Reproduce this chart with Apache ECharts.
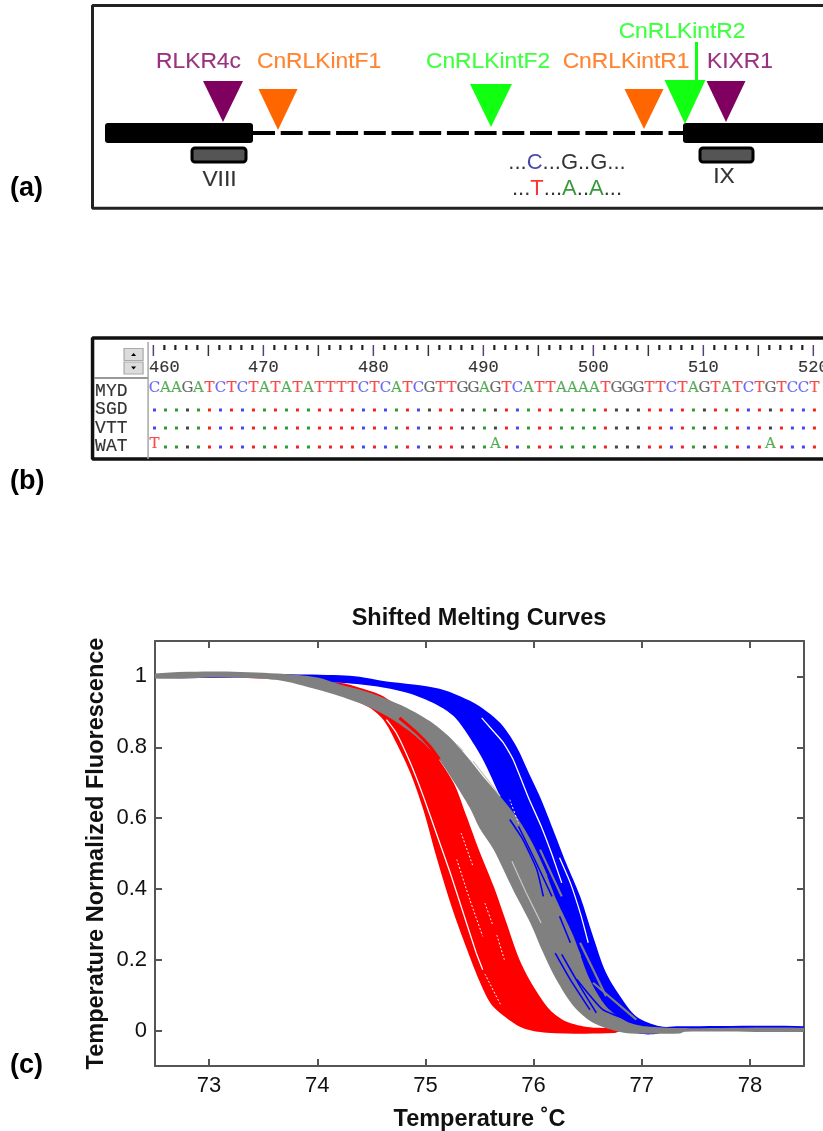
<!DOCTYPE html>
<html><head><meta charset="utf-8">
<style>html,body{margin:0;padding:0;background:#fff}#c{width:823px;height:1131px}</style>
<script src="https://cdn.jsdelivr.net/npm/echarts@6/dist/echarts.min.js"></script>
</head><body><div id="c"></div>
<script>
// ---------- panel (c): envelopes of the melting-curve families, [temperature, fluorescence]
const redLower=[[72.5,.996],[73.5,.995],[74.0,.97],[74.46,.916],[74.61,.878],[74.73,.813],[74.86,.728],[74.98,.624],[75.10,.492],[75.23,.361],[75.35,.257],[75.5,.139],[75.60,.078],[75.69,.05],[75.9,.007],[76.12,-.006],[76.74,-.007]];
const redUpper=[[72.5,1.005],[74.21,.982],[74.39,.968],[74.61,.944],[74.83,.888],[75.04,.803],[75.26,.70],[75.38,.605],[75.50,.506],[75.63,.408],[75.75,.304],[75.87,.2],[75.997,.125],[76.15,.059],[76.30,.026],[76.52,.0095],[76.83,.005]];
const blueLower=[[72.5,.996],[73.7,.996],[74.0,.985],[74.21,.982],[74.52,.973],[74.83,.954],[75.10,.921],[75.26,.888],[75.38,.841],[75.53,.766],[75.69,.662],[75.81,.587],[75.97,.502],[76.06,.417],[76.18,.323],[76.30,.2],[76.43,.097],[76.61,.036],[76.77,.012],[76.98,-.009],[77.15,-.009],[77.2,0],[78.5,0]];
const blueUpper=[[72.5,1.006],[73.7,1.006],[74.21,1.003],[74.39,.999],[74.61,.987],[74.89,.977],[75.13,.965],[75.32,.944],[75.50,.916],[75.69,.869],[75.84,.803],[75.97,.718],[76.07,.6525],[76.18,.568],[76.30,.474],[76.43,.379],[76.55,.266],[76.67,.163],[76.80,.097],[76.95,.04],[77.17,.012],[77.35,.012],[78.5,.012]];
const grayLower=[[72.5,.994],[73.1,.997],[73.63,.99],[74.0,.963],[74.21,.944],[74.46,.916],[74.67,.883],[74.89,.836],[75.10,.775],[75.26,.704],[75.41,.629],[75.50,.572],[75.63,.511],[75.81,.398],[75.97,.304],[76.09,.219],[76.21,.144],[76.37,.069],[76.55,.022],[76.77,-.002],[76.9,-.008],[77.35,-.008],[77.4,-.003],[78.5,-.003]];
const grayUpper=[[72.5,1.008],[73.1,1.014],[73.63,1.008],[74.0,.997],[74.21,.977],[74.39,.963],[74.61,.94],[74.83,.911],[75.04,.874],[75.23,.827],[75.38,.775],[75.53,.718],[75.69,.662],[75.84,.605],[75.97,.54],[76.09,.464],[76.21,.37],[76.37,.266],[76.52,.144],[76.67,.069],[76.86,.026],[77.04,.012],[77.35,.007],[78.5,.008]];
// individual curves that stand out inside the bands
const whiteCurves=[
 [[75.52,.883],[75.60,.855],[75.72,.813],[75.81,.766],[75.96,.6525],[76.07,.577],[76.17,.497],[76.26,.417]],
 [[76.24,.488],[76.34,.417],[76.44,.323],[76.505,.248]],
 [[74.64,.878],[74.73,.841],[74.86,.756],[74.98,.662],[75.10,.558],[75.23,.445],[75.35,.332],[75.47,.219],[75.53,.172]]
];
const paleCurves=[
 [[75.44,.761],[75.57,.71],[75.69,.662]],
 [[75.80,.478],[75.93,.39],[76.07,.304]],
 [[75.29,.808],[75.35,.789]]
];
const dottedCurves=[
 [[75.33,.558],[75.44,.464]],
 [[75.29,.483],[75.41,.37],[75.53,.266]],
 [[75.55,.36],[75.62,.30]],
 [[75.66,.27],[75.73,.20]],
 [[75.55,.16],[75.7,.07]],
 [[75.78,.652],[75.86,.585]]
];
const blueCurves=[
 [[75.78,.596],[75.90,.54],[76.03,.455],[76.09,.379]],
 [[75.86,.577],[76.01,.483],[76.17,.379]],
 [[76.20,.219],[76.34,.144],[76.52,.059]],
 [[76.26,.215],[76.43,.125],[76.58,.05]],
 [[76.40,.144],[76.64,.059],[76.95,.022]],
 [[76.24,.323],[76.34,.248]]
];
const grayCurves=[
 [[75.97,.53],[76.12,.436]],
 [[76.06,.511],[76.26,.379]],
 [[76.26,.323],[76.43,.21]],
 [[76.43,.248],[76.67,.097]],
 [[76.55,.135],[76.95,.031]]
];
const redStreak=[[74.76,.883],[74.92,.841],[75.04,.803],[75.13,.766]];
const xTicks=[73,74,75,76,77,78];
const yTicks=[0,0.2,0.4,0.6,0.8,1];

// ---------- panel (b): alignment
const sequence="CAAGATCTCTATATATTTTCTCATCGTTGGAGTCATTAAAATGGGTTCTAGTATCTGTCCTA";
const taxa=["MYD","SGD","VTT","WAT"];
const watChanges={0:"T",31:"A",56:"A"};
const rulerLabels=[460,470,480,490,500,510,520];
const baseColor={A:"#2f9a2f",C:"#4646f5",G:"#444444",T:"#f52020"};

// ---------- panel (a): gene map
const primerNames=["RLKR4c","CnRLKintF1","CnRLKintF2","CnRLKintR1","CnRLKintR2","KIXR1"];
const primerTips=[131,186,399,552,593,634];
const exons=[[13,161],[591,760]];
const probes=[[100,154,"VIII"],[608,661,"IX"]];

const PURPLE="#800060",ORANGE="#ff6600",GREEN="#11ff11";
const SANS="'Liberation Sans',Arial,sans-serif", MONO="'Liberation Mono',monospace", SERIF="'DejaVu Serif',serif";
const primerColor=[PURPLE,ORANGE,GREEN,ORANGE,GREEN,PURPLE];
const primerCY=[106.5,98.5,102.5,99,106,106.5], primerW=[40,39,42,39,41,39], primerH=[41,41,43,40,44,41];
const labelX=[106.5,227,396,534,590,648], labelY=[146,146,146,146,176,146];

function rectSeries(rows,style,r){
 return {type:'custom',xAxisIndex:0,yAxisIndex:0,silent:true,z:3,
  data:rows,encode:{x:[0,1],y:[2,3]},
  renderItem(p,api){
   const a=api.coord([api.value(0),api.value(3)]),b=api.coord([api.value(1),api.value(2)]);
   return {type:'rect',shape:{x:a[0],y:a[1],width:b[0]-a[0],height:b[1]-a[1],r:r},style:style};
  }};
}
function textSeries(items,xi,yi,font){
 return {type:'scatter',xAxisIndex:xi,yAxisIndex:yi,symbolSize:0,silent:true,z:6,
  data:items.map(t=>({value:[t.x,t.y],label:{show:true,position:'inside',formatter:t.text,color:t.color||'#000',
    textBorderColor:t.color||'#000',textBorderWidth:t.rich?0:(font.stroke||0),
    fontFamily:t.family||font.family,fontSize:t.size||font.size,fontWeight:font.weight||'normal',align:t.align||'center',verticalAlign:'middle',rich:t.rich}}))};
}
function band(lower,upper,color,z){
 const pts=lower.concat(upper.slice().reverse());
 return {type:'custom',xAxisIndex:2,yAxisIndex:2,silent:true,z:z,clip:true,data:pts,encode:{x:0,y:1},
  renderItem(p,api){
   if(p.dataIndex!==0)return null;
   return {type:'polygon',shape:{points:pts.map(q=>api.coord(q)),smooth:0.3},style:{fill:color}};
  }};
}
function curve(pts,color,w,z,type){
 return {type:'line',xAxisIndex:2,yAxisIndex:2,data:pts,symbol:'none',smooth:0.15,silent:true,z:z,
  lineStyle:{color:color,width:w,type:type||'solid'}};
}
function frame(pts,xi,w,color){
 return {type:'line',xAxisIndex:xi,yAxisIndex:xi,data:pts,symbol:'none',silent:true,z:1,clip:false,lineStyle:{color:color,width:w}};
}

const series=[];
// panel a
series.push(frame([[731,202.5],[0.5,202.5],[0.5,-0.3],[731,-0.3]],0,3,'#222'));
series.push({type:'line',xAxisIndex:0,yAxisIndex:0,symbol:'none',silent:true,z:2,data:[[161,75],[591,75]],lineStyle:{color:'#000',width:4,type:[22,5.7]}});
series.push(rectSeries(exons.map(e=>[e[0],e[1],65,85]),{fill:'#000'},3));
series.push(rectSeries(probes.map(e=>[e[0],e[1],46,60]),{fill:'#555',stroke:'#000',lineWidth:3},3));
series.push({type:'line',xAxisIndex:0,yAxisIndex:0,symbol:'none',silent:true,z:4,data:[[604.5,166],[604.5,125]],lineStyle:{color:GREEN,width:3}});
series.push({type:'scatter',xAxisIndex:0,yAxisIndex:0,silent:true,z:4,symbol:'triangle',symbolRotate:180,
 data:primerTips.map((x,i)=>({value:[x,primerCY[i]],symbolSize:[primerW[i],primerH[i]],itemStyle:{color:primerColor[i],opacity:1}}))});
const aItems=primerNames.map((n,i)=>({x:labelX[i],y:labelY[i],text:n,color:primerColor[i]}));
aItems.push({x:127.5,y:28,text:'VIII'},{x:632,y:31,text:'IX'});
const fa={fontSize:22,fontFamily:SANS};
const richA={k:{color:'#000',...fa},b:{color:'#1a1a90',...fa},r:{color:'#f00',...fa},g:{color:'#0a7d0a',...fa}};
aItems.push({x:475,y:45,text:'{k|...}{b|C}{k|...G..G...}',rich:richA});
aItems.push({x:475,y:19,text:'{k|...}{r|T}{k|...}{g|A}{k|..}{g|A}{k|...}',rich:richA});
series.push(textSeries(aItems,0,0,{family:SANS,size:22.8,stroke:0.15}));

// panel b
series.push(frame([[520.88,122],[454.47,122],[454.47,1],[520.88,1]],1,3.5,'#111'));
const ruler=[];for(let p=460;p<=521;p++)ruler.push(p);
series.push({type:'scatter',xAxisIndex:1,yAxisIndex:1,symbol:'rect',silent:true,z:3,
 data:ruler.map(p=>{const maj=p%5===0;return {value:[p,maj?109.5:112.5],symbolSize:maj?[1.5,11]:[2.2,5],
   itemStyle:{opacity:1,color:maj?(p%10===0?'#5a3f7a':'#333'):'#222'}};})});
series.push({type:'line',xAxisIndex:1,yAxisIndex:1,symbol:'none',silent:true,z:2,data:[[459.52,118],[459.52,1]],lineStyle:{color:'#a8a8a8',width:1.5}});
series.push({type:'line',xAxisIndex:1,yAxisIndex:1,symbol:'none',silent:true,z:2,data:[[454.6,82],[459.52,82]],lineStyle:{color:'#999',width:2}});
series.push({type:'scatter',xAxisIndex:1,yAxisIndex:1,symbol:'rect',silent:true,z:3,symbolSize:[19,12],
 itemStyle:{color:'#dcdcdc',borderColor:'#aaa',borderWidth:1,opacity:1},data:[[458.2,105.5],[458.2,92]]});
series.push({type:'scatter',xAxisIndex:1,yAxisIndex:1,symbol:'triangle',silent:true,z:4,symbolSize:[5,3],
 itemStyle:{color:'#000',opacity:1},data:[{value:[458.2,105.5]},{value:[458.2,92],symbolRotate:180}]});
const rowY=[72,50,32,13];
const bItems=[];
taxa.forEach((t,i)=>bItems.push({x:454.7,y:[69,51,32,14][i],text:t,align:'left',color:'#000',size:18}));
rulerLabels.forEach(v=>bItems.push({x:v===460?461:v,y:93,text:String(v),color:'#000',size:17}));
[...sequence].forEach((b,i)=>bItems.push({x:460+i+.1,y:rowY[0],text:b,color:baseColor[b],size:15,family:SERIF}));
Object.keys(watChanges).forEach(k=>{const b=watChanges[k];bItems.push({x:460+ +k+.1,y:rowY[3]+3,text:b,color:baseColor[b],size:15,family:SERIF});});
series.push(textSeries(bItems,1,1,{family:MONO,size:16,stroke:0.15}));
const dots=[];
[1,2,3].forEach(r=>[...sequence].forEach((b,i)=>{ if(r===3&&watChanges[i])return;
  dots.push({value:[460+i+.1,rowY[r]],itemStyle:{color:baseColor[b],opacity:1}});}));
series.push({type:'scatter',xAxisIndex:1,yAxisIndex:1,symbol:'rect',symbolSize:3,silent:true,z:3,data:dots});

// panel c
series.push(band(redLower,redUpper,'#ff0000',3));
series.push(band(blueLower,blueUpper,'#0000ff',4));
series.push(band(grayLower,grayUpper,'#808080',5));
series.push(curve(redStreak,'#ff0000',3,6));
whiteCurves.forEach(c=>series.push(curve(c,'#ffffff',1.3,7)));
paleCurves.forEach(c=>series.push(curve(c,'#c8c8c8',1.2,7)));
dottedCurves.forEach(c=>series.push(curve(c,'#ffffff',1,7,[2,2])));
grayCurves.forEach(c=>series.push(curve(c,'#808080',2.2,8)));
blueCurves.forEach(c=>series.push(curve(c,'#0000ff',1.6,9)));

const hidden=(o)=>Object.assign({type:'value',show:false,splitLine:{show:false}},o);
const axisCol='#555';
const axLine={show:true,onZero:false,lineStyle:{color:axisCol,width:2}};
const tickS={show:true,inside:true,length:7,lineStyle:{color:axisCol,width:2}};
const nameS={fontFamily:SANS,fontSize:23.5,fontWeight:'bold',color:'#111'};
const option={
 animation:false,backgroundColor:'#fff',
 title:{text:'Shifted Melting Curves',left:474,top:602,textAlign:'center',textStyle:{fontFamily:SANS,fontSize:23.5,fontWeight:'bold',color:'#111'}},
 grid:[
  {left:92,top:5,width:731,height:203,outerBoundsMode:'none'},
  {left:92,top:338,width:731,height:122,outerBoundsMode:'none'},
  {left:155,top:641,width:649,height:425,outerBoundsMode:'none'}
 ],
 xAxis:[
  hidden({gridIndex:0,min:0,max:731}),
  hidden({gridIndex:1,min:454.42,max:520.88}),
  {type:'value',gridIndex:2,min:72.5,max:78.5,name:'Temperature ˚C',nameLocation:'middle',nameGap:42,nameMoveOverlap:false,
   nameTextStyle:nameS,axisLine:axLine,splitLine:{show:false},
   axisTick:{...tickS,customValues:xTicks},
   axisLabel:{customValues:xTicks,fontFamily:SANS,fontSize:22,color:'#111',margin:9}},
  {type:'value',gridIndex:2,position:'top',min:72.5,max:78.5,axisLine:axLine,splitLine:{show:false},
   axisTick:{...tickS,customValues:xTicks},axisLabel:{show:false}}
 ],
 yAxis:[
  hidden({gridIndex:0,min:0,max:203}),
  hidden({gridIndex:1,min:0,max:122}),
  {type:'value',gridIndex:2,min:-0.1,max:1.1,name:'Temperature Normalized Fluorescence',nameLocation:'middle',nameGap:46,nameRotate:90,nameMoveOverlap:false,
   nameTextStyle:nameS,axisLine:axLine,splitLine:{show:false},
   axisTick:{...tickS,customValues:yTicks},
   axisLabel:{customValues:yTicks,fontFamily:SANS,fontSize:22,color:'#111',margin:8}},
  {type:'value',gridIndex:2,position:'right',min:-0.1,max:1.1,axisLine:axLine,splitLine:{show:false},
   axisTick:{...tickS,customValues:yTicks},axisLabel:{show:false}}
 ],
 graphic:[
  {type:'text',left:10,top:175,style:{text:'(a)',fontFamily:SANS,fontSize:27,fontWeight:'bold',fill:'#000'}},
  {type:'text',left:10,top:468,style:{text:'(b)',fontFamily:SANS,fontSize:27,fontWeight:'bold',fill:'#000'}},
  {type:'text',left:10,top:1052,style:{text:'(c)',fontFamily:SANS,fontSize:27,fontWeight:'bold',fill:'#000'}}
 ],
 series:series
};
echarts.init(document.getElementById('c'),null,{renderer:'canvas'}).setOption(option);
</script></body></html>
